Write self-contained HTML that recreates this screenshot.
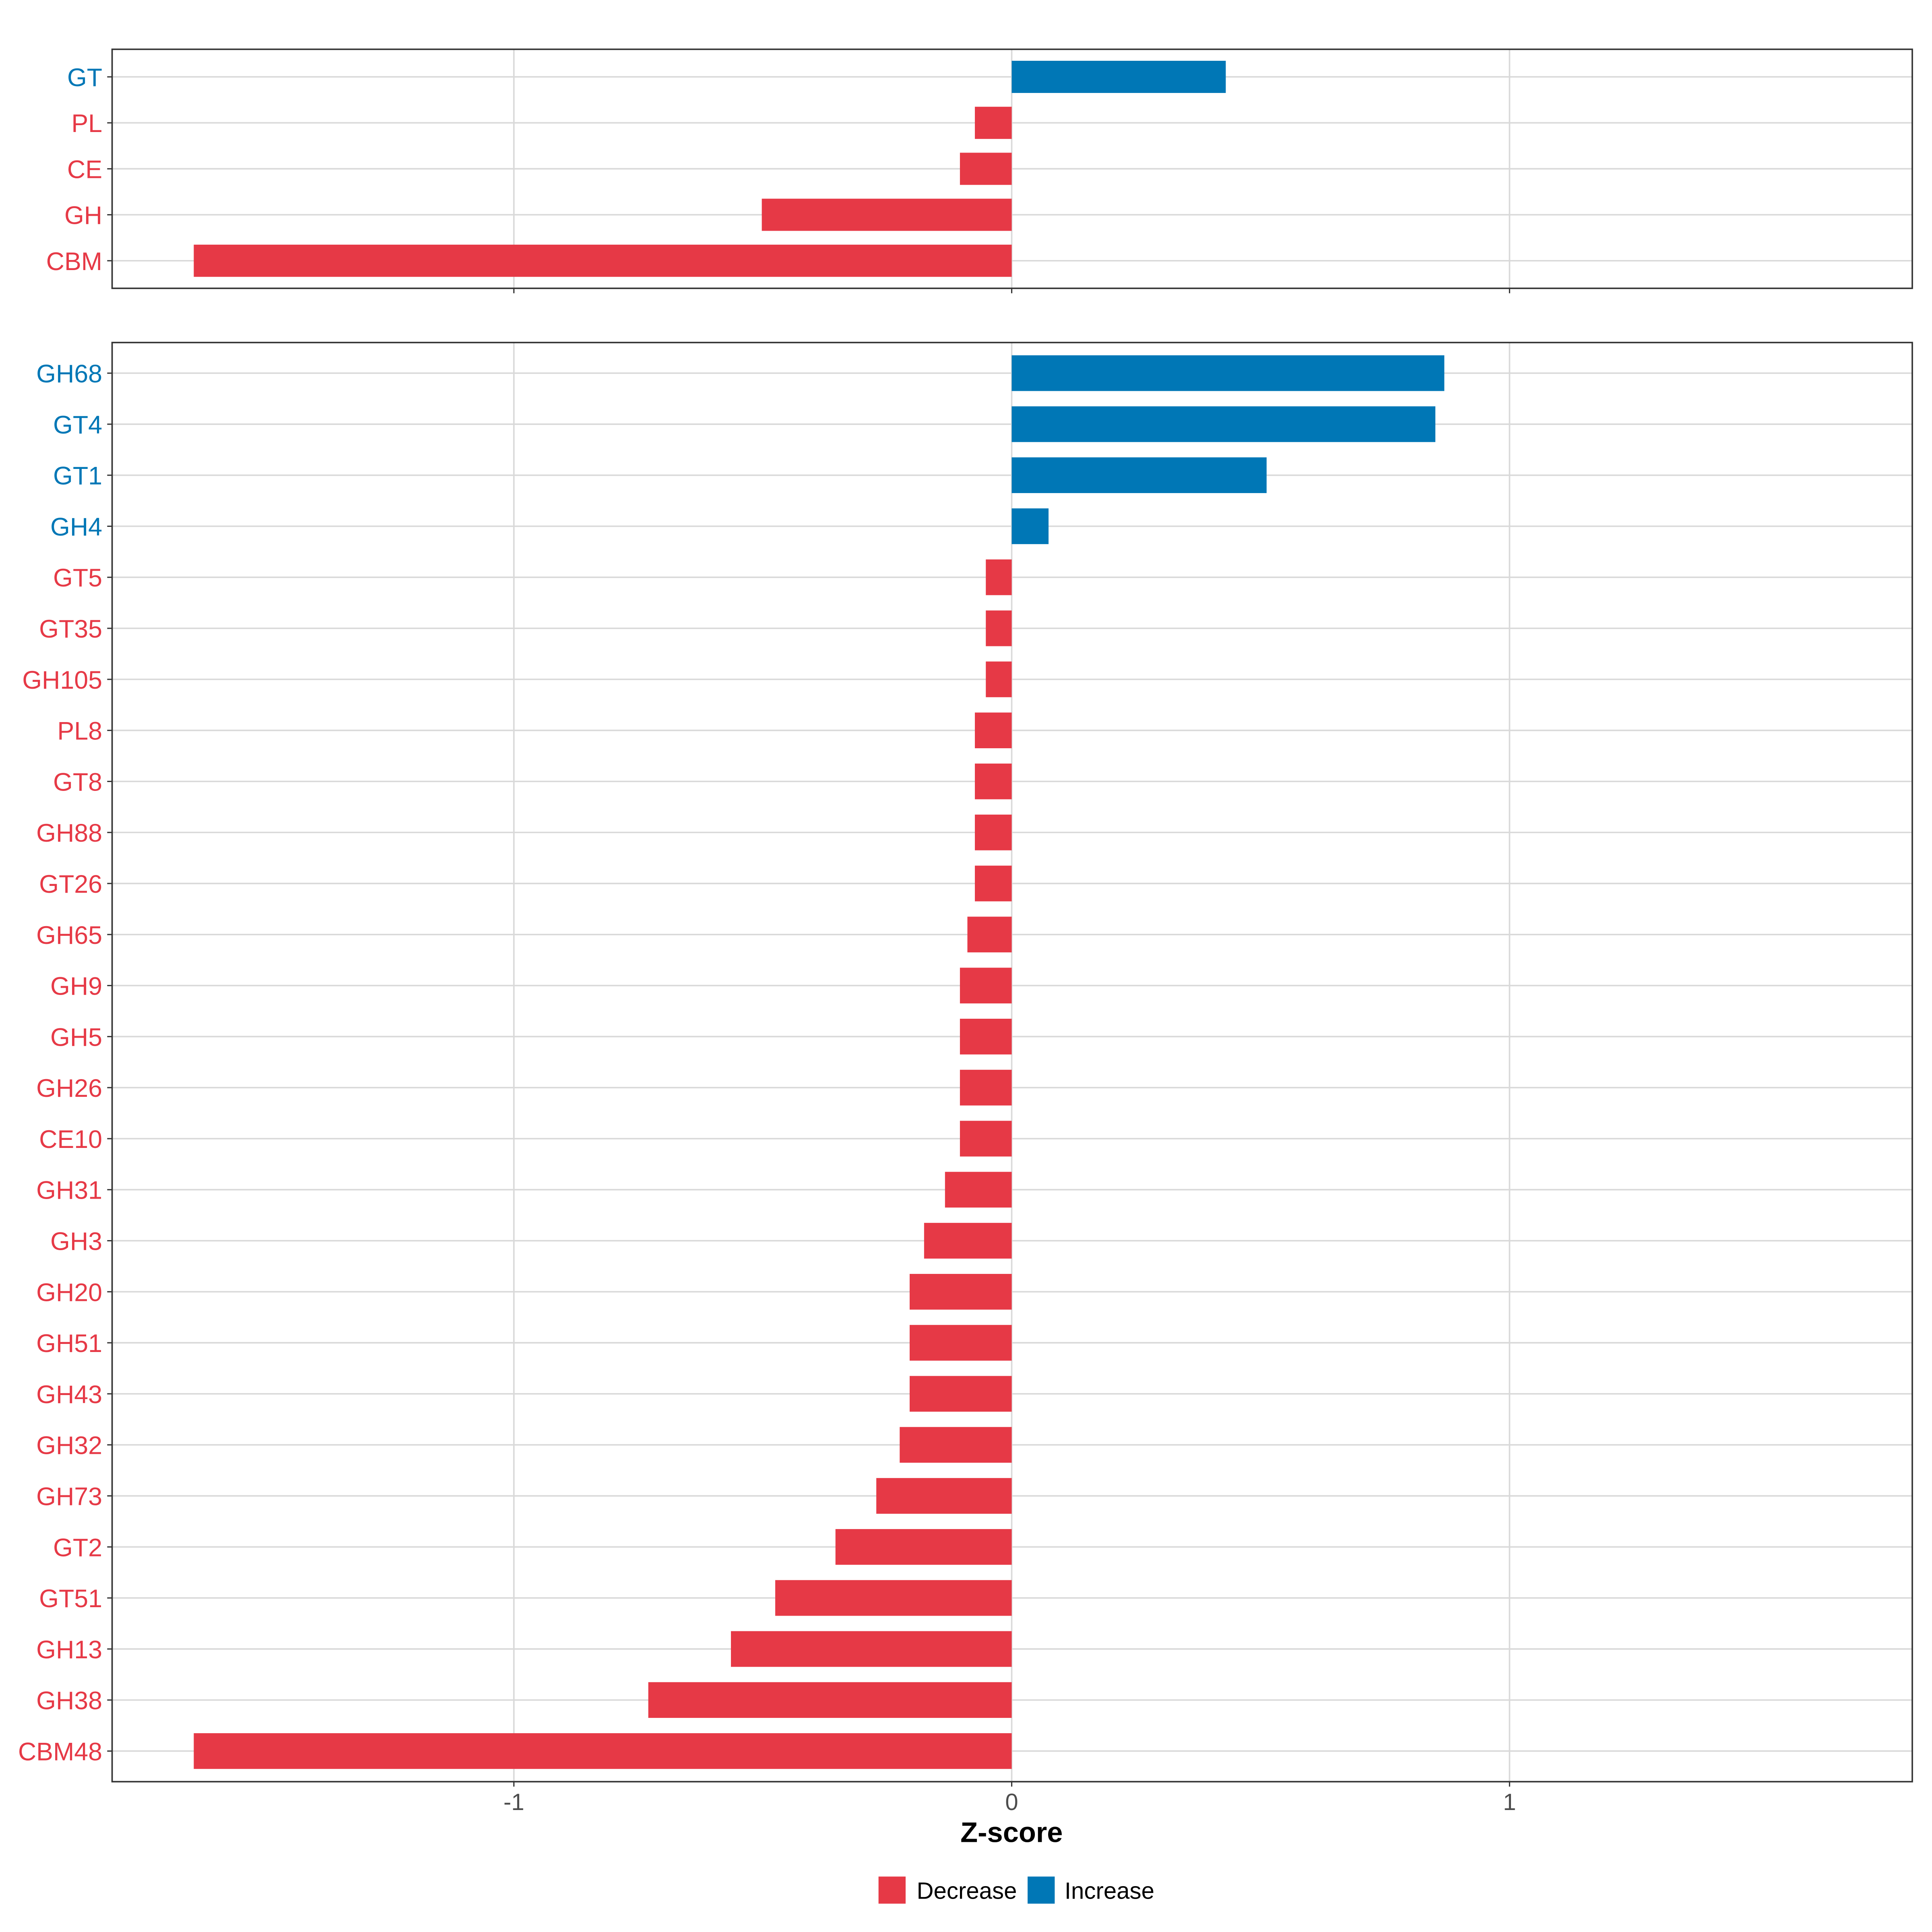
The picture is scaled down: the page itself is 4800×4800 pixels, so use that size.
<!DOCTYPE html>
<html><head><meta charset="utf-8"><style>
html,body{margin:0;padding:0;background:#fff}
svg{display:block}
text{font-family:"Liberation Sans",sans-serif}
</style></head><body>
<svg id="chart" width="4800" height="4800" viewBox="0 0 1568 1568" xmlns="http://www.w3.org/2000/svg">
<g id="top"></g>
<g id="bottom"></g>
<g id="xaxis"></g>
<text x="821" y="1495" font-size="23" font-weight="bold" text-anchor="middle">Z-score</text>
<g>
<rect x="713" y="1523" width="22" height="22" fill="#E63946"/>
<text x="744" y="1541" font-size="19">Decrease</text>
<rect x="834" y="1523" width="22" height="22" fill="#0077B6"/>
<text x="864" y="1541" font-size="19">Increase</text>
</g>
</svg>
<script>
const topCategories = ["GT","PL","CE","GH","CBM"];
const topValues = [0.43,-0.074,-0.104,-0.502,-1.643];
const bottomCategories = ["GH68","GT4","GT1","GH4","GT5","GT35","GH105","PL8","GT8","GH88","GT26","GH65","GH9","GH5","GH26","CE10","GH31","GH3","GH20","GH51","GH43","GH32","GH73","GT2","GT51","GH13","GH38","CBM48"];
const bottomValues = [0.869,0.851,0.512,0.074,-0.052,-0.052,-0.052,-0.074,-0.074,-0.074,-0.074,-0.089,-0.104,-0.104,-0.104,-0.104,-0.134,-0.176,-0.205,-0.205,-0.205,-0.225,-0.272,-0.354,-0.475,-0.564,-0.730,-1.643];
const xTicks = [-1,0,1];
const xTickLabels = ["-1","0","1"];

const NS="http://www.w3.org/2000/svg";
const RED="#E63946", BLUE="#0077B6";
const XL=91, XR=1552, XMIN=-1.807, XMAX=1.809;
function xs(v){return XL+(v-XMIN)/(XMAX-XMIN)*(XR-XL);}
function mk(tag,attrs,parent){const e=document.createElementNS(NS,tag);for(const k in attrs)e.setAttribute(k,attrs[k]);parent.appendChild(e);return e;}

function panel(g,cats,vals,y0,y1,prefix){
  const n=cats.length, step=(y1-y0)/(n-1+1.2);
  const ys=i=>y0+step*(0.6+i);
  xTicks.forEach(t=>{const l=mk('line',{x1:xs(t),x2:xs(t),y1:y0,y2:y1,stroke:'#d9d9d9','stroke-width':1.2},g);
    
    });
  cats.forEach((c,i)=>{const l=mk('line',{x1:XL,x2:XR,y1:ys(i),y2:ys(i),stroke:'#d9d9d9','stroke-width':1.2},g);
    
    });
  const bh=step*0.7;
  cats.forEach((c,i)=>{const v=vals[i];const col=v>=0?BLUE:RED;
    const r=mk('rect',{x:Math.min(xs(0),xs(v)),y:ys(i)-bh/2,width:Math.abs(xs(v)-xs(0)),height:bh,fill:col},g);
    
    
    const tk=mk('line',{x1:XL-4,x2:XL,y1:ys(i),y2:ys(i),stroke:'#333','stroke-width':1},g);
    
    
    const t=mk('text',{x:XL-8,y:ys(i)+7.5,'font-size':20.5,'text-anchor':'end',fill:col},g);
    t.textContent=c;
    
    });
  xTicks.forEach(t=>{const l=mk('line',{x1:xs(t),x2:xs(t),y1:y1,y2:y1+4,stroke:'#333','stroke-width':1},g);
    
    });
  const b=mk('rect',{x:XL,y:y0,width:XR-XL,height:y1-y0,fill:'none',stroke:'#333','stroke-width':1.2},g);
  
  
}
panel(document.getElementById('top'),topCategories,topValues,40,234,'top');
panel(document.getElementById('bottom'),bottomCategories,bottomValues,278,1446,'bottom');
const xa=document.getElementById('xaxis');
xTicks.forEach((t,i)=>{const e=mk('text',{x:xs(t),y:1469,'font-size':19,'text-anchor':'middle',fill:'#4d4d4d'},xa);
  e.textContent=xTickLabels[i];
  
  });
</script>
</body></html>
